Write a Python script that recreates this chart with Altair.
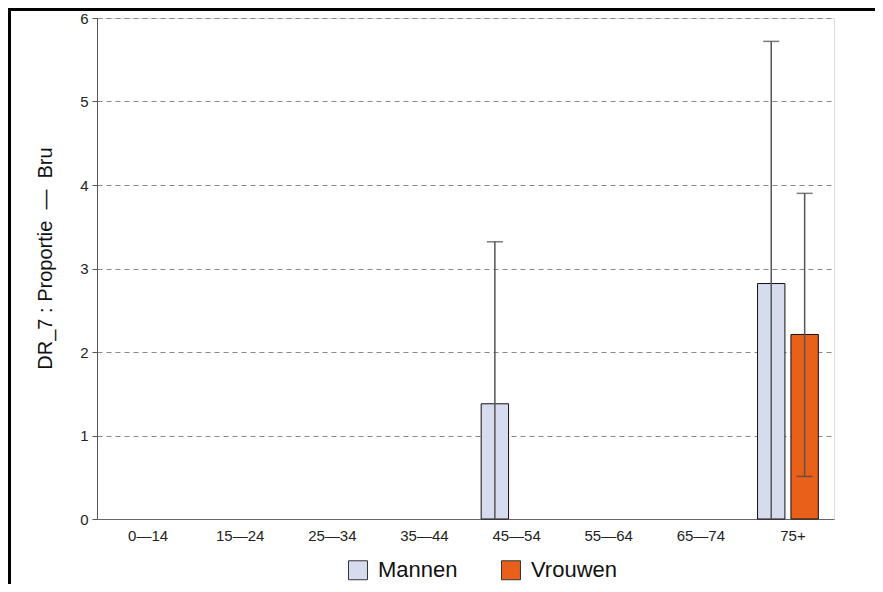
import altair as alt
import pandas as pd

ages = ["0\u201414", "15\u201424", "25\u201434", "35\u201444", "45\u201454", "55\u201464", "65\u201474", "75+"]
sexes = ["Mannen", "Vrouwen"]

# values (None = no bar)
mannen = [None, None, None, None, 1.38, None, None, 2.82]
mannen_lo = [None, None, None, None, 0.0, None, None, 0.0]
mannen_hi = [None, None, None, None, 3.32, None, None, 5.72]
vrouwen = [None, None, None, None, None, None, None, 2.21]
vrouwen_lo = [None, None, None, None, None, None, None, 0.51]
vrouwen_hi = [None, None, None, None, None, None, None, 3.90]

rows = []
for sex, vals, los, his in [("Mannen", mannen, mannen_lo, mannen_hi),
                            ("Vrouwen", vrouwen, vrouwen_lo, vrouwen_hi)]:
    for a, v, lo, hi in zip(ages, vals, los, his):
        if v is not None:
            rows.append({"age": a, "sex": sex, "value": v, "lo": lo, "hi": hi})
df = pd.DataFrame(rows)

colors = ["#d6dbee", "#e8601a"]

x_enc = alt.X("age:N", sort=ages, scale=alt.Scale(domain=ages, paddingInner=0.34, paddingOuter=0.17),
              axis=alt.Axis(title=None, labelAngle=0, ticks=False, labelPadding=9, labelOffset=5,
                            labelFontSize=15, labelColor="#222", domainColor="#666", grid=False))
xoff = alt.XOffset("sex:N", sort=sexes, scale=alt.Scale(domain=sexes, paddingInner=0.18, paddingOuter=0.0))
y_scale = alt.Scale(domain=[0, 6], nice=False)

base = alt.Chart(df)

bars = base.mark_bar(stroke="#111", strokeWidth=1).encode(
    x=x_enc,
    xOffset=xoff,
    y=alt.Y("value:Q", scale=y_scale,
            axis=alt.Axis(title="DR_7 : Proportie\u00a0\u00a0\u2014\u00a0\u00a0Bru", values=[0, 1, 2, 3, 4, 5, 6],
                          format="d",
                          titleFontSize=20, titleFontWeight="normal", titleColor="#111",
                          titleX=-52, titleY=240, titleAngle=-90, titleAlign="center", titleBaseline="middle",
                          labelFontSize=15, labelColor="#222", labelPadding=4,
                          tickSize=5, tickColor="#555", domainColor="#555",
                          grid=True, gridDash=[5, 4], gridColor="#888", gridWidth=1)),
    color=alt.Color("sex:N", sort=sexes, scale=alt.Scale(domain=sexes, range=colors),
                    legend=alt.Legend(title=None, orient="none", direction="horizontal",
                                      legendX=250, legendY=541, symbolType="square", symbolSize=360,
                                      symbolStrokeColor="#333", symbolStrokeWidth=1, symbolOpacity=1,
                                      labelFontSize=22, labelColor="#111", labelOffset=9,
                                      columnPadding=41)),
)

err = base.mark_rule(color="#555", strokeWidth=1.5).encode(
    x=alt.X("age:N", sort=ages), xOffset=alt.XOffset("sex:N", sort=sexes),
    y=alt.Y("lo:Q"), y2="hi:Q")

cap_hi = base.mark_tick(color="#444", thickness=1.5, size=16).encode(
    x=alt.X("age:N", sort=ages), xOffset=alt.XOffset("sex:N", sort=sexes), y=alt.Y("hi:Q"))

cap_lo = base.transform_filter("datum.lo > 0").mark_tick(color="#444", thickness=1.5, size=16).encode(
    x=alt.X("age:N", sort=ages), xOffset=alt.XOffset("sex:N", sort=sexes), y=alt.Y("lo:Q"))

one = alt.Data(values=[{"f": 1}])
frame_top = alt.Chart(one).mark_rule(color="#000", strokeWidth=3).encode(
    x=alt.value(-89), x2=alt.value(3000), y=alt.value(-8.5))
frame_left = alt.Chart(one).mark_rule(color="#000", strokeWidth=3).encode(
    x=alt.value(-87.5), y=alt.value(-10), y2=alt.value(3000))

chart = alt.layer(bars, err, cap_hi, cap_lo, frame_top, frame_left).properties(
    width=737, height=501,
    autosize=alt.AutoSizeParams(type="none"),
    padding={"left": 89, "top": 10, "right": 41, "bottom": 65},
).configure_view(stroke=None).configure(font="Liberation Sans")

chart.save("out.html", embed_options={"renderer": "svg", "actions": False})
